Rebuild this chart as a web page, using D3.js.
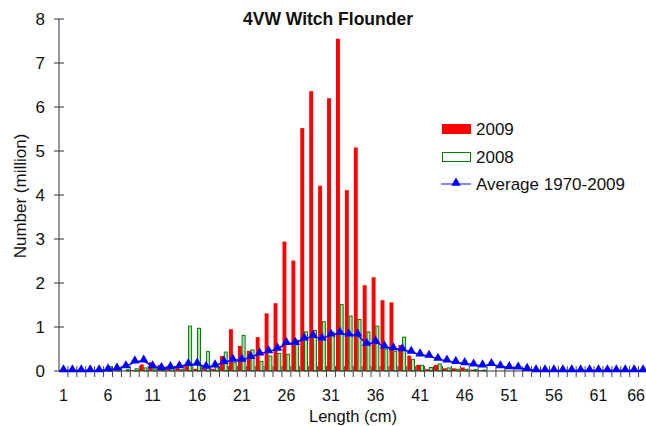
<!DOCTYPE html>
<html>
<head>
<meta charset="utf-8">
<script src="https://cdn.jsdelivr.net/npm/d3@7"></script>
<style>
  html, body { margin: 0; padding: 0; background: #fff; }
  svg { display: block; font-family: "Liberation Sans", Arial, sans-serif; }
</style>
</head>
<body>
<svg id="chart" width="646" height="426"></svg>
<script>
// ---- data ----
const lengths = d3.range(1, 67);
const values2009 = [0,0,0,0,0,0,0.02,0,0.02,0.15,0.2,0.14,0.12,0.08,0.12,0.05,0.05,0.05,0.34,0.95,
  0.57,0.46,0.77,1.31,1.54,2.94,2.51,5.52,6.36,4.21,6.2,7.55,4.11,5.08,1.95,2.13,1.61,1.56,0.59,0.35,
  0.14,0.04,0.14,0.06,0.06,0.08,0.03,0.02,0,0,0,0,0,0,0,0,0,0,0,0,0,0,0,0,0,0];
const values2008 = [0,0,0,0,0,0.1,0.05,0.03,0.05,0.07,0.05,0.03,0.07,0.03,1.02,0.97,0.44,0.1,0.43,0.19,
  0.81,0.48,0.22,0.34,0.4,0.38,0.7,0.89,0.92,1.12,0.88,1.51,1.25,1.17,0.89,1.02,0.5,0.45,0.77,0.26,
  0.13,0.08,0.16,0.07,0.04,0.04,0.03,0.02,0,0,0,0,0,0,0,0,0,0,0,0,0,0,0,0,0,0];
const valuesAvg = [0.01,0.01,0.01,0.01,0.01,0.03,0.05,0.1,0.21,0.23,0.1,0.06,0.08,0.1,0.15,0.16,0.09,0.12,0.2,0.25,
  0.25,0.31,0.39,0.44,0.5,0.63,0.63,0.73,0.79,0.73,0.82,0.86,0.82,0.82,0.61,0.66,0.55,0.51,0.49,0.43,
  0.37,0.34,0.27,0.23,0.2,0.17,0.14,0.12,0.15,0.1,0.08,0.07,0.04,0.01,0.01,0.01,0.01,0.01,0.01,0.01,0.01,0.01,0.01,0.01,0.01,0.01];
const yTicks = [0,1,2,3,4,5,6,7,8];
const xTickLabels = [1,6,11,16,21,26,31,36,41,46,51,56,61,66];
const titleText = "4VW Witch Flounder";
const xTitle = "Length (cm)";
const yTitle = "Number (million)";
const legendLabels = ["2009", "2008", "Average 1970-2009"];

// ---- layout ----
const svg = d3.select("#chart");
const plotLeft = 59, bandW = 8.917, plotTop = 19, plotBottom = 371;
const FS = 17;
const x = d3.scaleBand().domain(lengths).range([plotLeft, plotLeft + bandW * lengths.length]).padding(0);
const y = d3.scaleLinear().domain([0, 8]).range([plotBottom, plotTop]);
const bw = x.bandwidth();
const cx = d => x(d) + bw / 2;

const RED = "#ff0000", GREEN = "#008000", BLUE = "#0000ff";

// bars 2009
svg.append("g").selectAll("rect").data(lengths).join("rect")
  .attr("x", (d) => cx(d) - 3.9)
  .attr("width", 3.9)
  .attr("y", (d, i) => y(values2009[i]))
  .attr("height", (d, i) => plotBottom - y(values2009[i]))
  .attr("fill", RED);

// bars 2008
svg.append("g").selectAll("rect").data(lengths.filter((d, i) => values2008[i] > 0)).join("rect")
  .attr("x", (d) => cx(d) + 0.3)
  .attr("width", 3.0)
  .attr("y", (d) => y(values2008[d - 1]))
  .attr("height", (d) => plotBottom - y(values2008[d - 1]))
  .attr("fill", "#b9dcb9")
  .attr("stroke", GREEN)
  .attr("stroke-width", 1);

// y axis
const yAxis = d3.axisLeft(y).tickValues(yTicks).tickSize(0).tickPadding(14).tickFormat(d3.format("d"));
const gy = svg.append("g").attr("transform", `translate(${plotLeft},0)`).call(yAxis);
gy.select(".domain").remove();
gy.selectAll("text").attr("font-size", FS).attr("fill", "#111").attr("font-family", "Liberation Sans, Arial, sans-serif");
svg.append("line").attr("x1", plotLeft).attr("x2", plotLeft).attr("y1", plotTop).attr("y2", plotBottom).attr("stroke", "#555").attr("stroke-width", 1.2);
svg.append("g").selectAll("line").data(yTicks).join("line")
  .attr("x1", plotLeft - 5).attr("x2", plotLeft + 5)
  .attr("y1", d => y(d)).attr("y2", d => y(d))
  .attr("stroke", "#333").attr("stroke-width", 1);

// x axis
svg.append("line").attr("x1", plotLeft).attr("x2", 646).attr("y1", plotBottom).attr("y2", plotBottom).attr("stroke", "#333").attr("stroke-width", 1.2);
svg.append("g").selectAll("line").data(lengths).join("line")
  .attr("x1", d => x(d) + bw).attr("x2", d => x(d) + bw)
  .attr("y1", plotBottom - 5).attr("y2", plotBottom + 6)
  .attr("stroke", "#444").attr("stroke-width", 1);
svg.append("g").selectAll("text").data(xTickLabels).join("text")
  .attr("x", (d, i) => i === xTickLabels.length - 1 ? 645 : cx(d)).attr("y", 401)
  .attr("text-anchor", (d, i) => i === xTickLabels.length - 1 ? "end" : "middle")
  .attr("font-size", 16).attr("fill", "#111")
  .text(d => d);

// average line
const line = d3.line().x((d, i) => cx(lengths[i])).y(d => y(d));
svg.append("path").datum(valuesAvg).attr("d", line)
  .attr("fill", "none").attr("stroke", BLUE).attr("stroke-width", 1.5);
const tri = d3.symbol().type(d3.symbolTriangle).size(38);
svg.append("g").selectAll("path").data(valuesAvg).join("path")
  .attr("d", tri)
  .attr("transform", (d, i) => `translate(${cx(lengths[i])},${y(d) - 1})`)
  .attr("fill", BLUE);

// titles
svg.append("text").attr("x", 328).attr("y", 25).attr("text-anchor", "middle")
  .attr("font-size", 17.5).attr("font-weight", "bold").attr("fill", "#111").text(titleText);
svg.append("text").attr("x", 353).attr("y", 422).attr("text-anchor", "middle")
  .attr("font-size", 16.5).attr("fill", "#111").text(xTitle);
svg.append("text").attr("transform", "translate(26,196) rotate(-90)").attr("text-anchor", "middle")
  .attr("font-size", FS).attr("fill", "#111").text(yTitle);

// legend
const lg = svg.append("g");
lg.append("rect").attr("x", 442).attr("y", 124).attr("width", 29).attr("height", 10).attr("fill", RED);
lg.append("rect").attr("x", 442.5).attr("y", 152.5).attr("width", 28).attr("height", 9).attr("fill", "#fff").attr("stroke", GREEN);
lg.append("line").attr("x1", 441).attr("x2", 471).attr("y1", 184).attr("y2", 184).attr("stroke", "#5a5aff").attr("stroke-width", 1.5);
lg.append("path").attr("d", tri).attr("transform", "translate(456,183)").attr("fill", BLUE);
lg.selectAll("text").data(legendLabels).join("text")
  .attr("x", 476).attr("y", (d, i) => 135 + i * 27.5)
  .attr("font-size", FS).attr("fill", "#111").text(d => d);
</script>
</body>
</html>
